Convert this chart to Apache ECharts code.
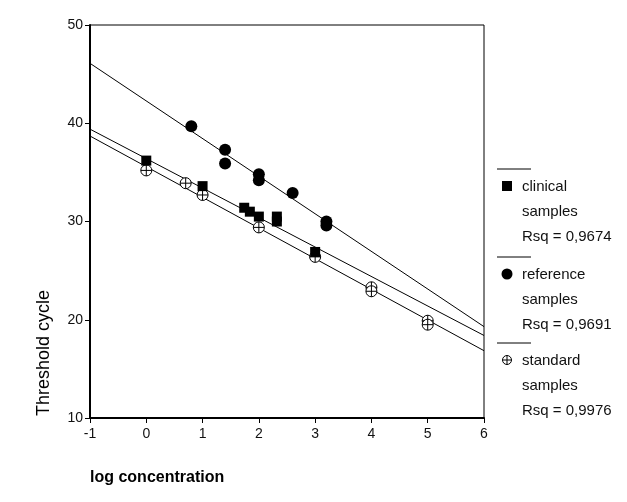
<!DOCTYPE html>
<html>
<head>
<meta charset="utf-8">
<script src="https://cdn.jsdelivr.net/npm/echarts@6/dist/echarts.min.js"></script>
<style>html,body{margin:0;padding:0;background:#fff;}#c{width:627px;height:502px;}</style>
</head>
<body>
<div id="c"></div>
<script>
// ---- data ----
var clinicalPoints = [[0, 36.2], [1, 33.6], [1.74, 31.4], [1.84, 31.0], [2.0, 30.5], [2.32, 30.5], [2.32, 30.0], [3.0, 26.9]];
var referencePoints = [[0.8, 39.7], [1.4, 37.3], [1.4, 35.9], [2.0, 34.8], [2.0, 34.2], [2.6, 32.9], [3.2, 30.0], [3.2, 29.6]];
var standardPoints = [[0, 35.2], [0.7, 33.9], [1.0, 32.7], [2.0, 29.4], [3.0, 26.4], [4.0, 23.3], [4.0, 22.9], [5.0, 19.9], [5.0, 19.5]];
// fitted lines (end points read at x = -1 and x = 6)
var clinicalFit = [[-1, 39.4], [6, 18.4]];
var referenceFit = [[-1, 46.1], [6, 19.3]];
var standardFit = [[-1, 38.7], [6, 16.85]];
var legendLabels = [
  ['clinical', 'samples', 'Rsq = 0,9674'],
  ['reference', 'samples', 'Rsq = 0,9691'],
  ['standard', 'samples', 'Rsq = 0,9976']
];
var xTitle = 'log concentration';
var yTitle = 'Threshold cycle';

var chart = echarts.init(document.getElementById('c'));
var FONT = '"Liberation Sans", Arial, sans-serif';
var crossPath = 'path://M10,0A10,10,0,1,1,-10,0A10,10,0,1,1,10,0ZM-10,0L10,0M0,-10L0,10';

function lineSeries(d) {
  return {type: 'line', data: d, symbol: 'none', silent: true, z: 1,
    lineStyle: {color: '#000', width: 1}};
}

// legend graphic
var graphics = [];
var legTop = [169, 257, 343];
for (var i = 0; i < 3; i++) {
  var y0 = legTop[i];
  graphics.push({type: 'line', shape: {x1: 497, y1: y0, x2: 531, y2: y0}, style: {stroke: '#000', lineWidth: 1}});
  var sy = y0 + 17;
  if (i === 0) {
    graphics.push({type: 'rect', shape: {x: 502, y: sy - 5, width: 10, height: 10}, style: {fill: '#000'}});
  } else if (i === 1) {
    graphics.push({type: 'circle', shape: {cx: 507, cy: sy, r: 5.5}, style: {fill: '#000'}});
  } else {
    graphics.push({type: 'circle', shape: {cx: 507, cy: sy, r: 4.5}, style: {fill: '#fff', stroke: '#000', lineWidth: 1}});
    graphics.push({type: 'line', shape: {x1: 502.5, y1: sy, x2: 511.5, y2: sy}, style: {stroke: '#000', lineWidth: 1}});
    graphics.push({type: 'line', shape: {x1: 507, y1: sy - 4.5, x2: 507, y2: sy + 4.5}, style: {stroke: '#000', lineWidth: 1}});
  }
  for (var j = 0; j < 3; j++) {
    graphics.push({type: 'text', x: 522, y: sy + 1 + j * 25, style: {text: legendLabels[i][j], font: '15px ' + FONT, fill: '#111', verticalAlign: 'middle', align: 'left'}});
  }
}
graphics.push({type: 'text', x: 90, y: 478, style: {text: xTitle, font: 'bold 16px ' + FONT, fill: '#000', verticalAlign: 'middle', align: 'left'}});
graphics.push({type: 'text', x: 44, y: 353, rotation: Math.PI / 2, style: {text: yTitle, font: '18px ' + FONT, fill: '#000', verticalAlign: 'middle', align: 'center'}});

chart.setOption({
  animation: false,
  backgroundColor: '#fff',
  grid: {left: 90, top: 25, right: 143, bottom: 84, show: true, borderColor: '#000', borderWidth: 1, backgroundColor: 'transparent'},
  xAxis: {type: 'value', min: -1, max: 6, interval: 1,
    axisLine: {show: true, onZero: false, lineStyle: {color: '#000', width: 2}},
    axisTick: {show: true, inside: false, length: 5, lineStyle: {color: '#000'}},
    axisLabel: {color: '#111', fontSize: 14, fontFamily: FONT, margin: 9},
    splitLine: {show: false}},
  yAxis: {type: 'value', min: 10, max: 50, interval: 10,
    axisLine: {show: true, onZero: false, lineStyle: {color: '#000', width: 2}},
    axisTick: {show: true, inside: false, length: 5, lineStyle: {color: '#000'}},
    axisLabel: {color: '#111', fontSize: 14, fontFamily: FONT, margin: 7},
    splitLine: {show: false}},
  graphic: graphics,
  series: [
    lineSeries(referenceFit),
    lineSeries(clinicalFit),
    lineSeries(standardFit),
    {type: 'scatter', data: clinicalPoints, symbol: 'rect', symbolSize: 10, z: 3,
      itemStyle: {color: '#000', opacity: 1}},
    {type: 'scatter', data: referencePoints, symbol: 'circle', symbolSize: 12, z: 3,
      itemStyle: {color: '#000', opacity: 1}},
    {type: 'scatter', data: standardPoints, symbol: crossPath, symbolSize: 11, z: 2,
      itemStyle: {color: '#fff', borderColor: '#000', borderWidth: 1, opacity: 1}}
  ]
});
</script>
</body>
</html>
